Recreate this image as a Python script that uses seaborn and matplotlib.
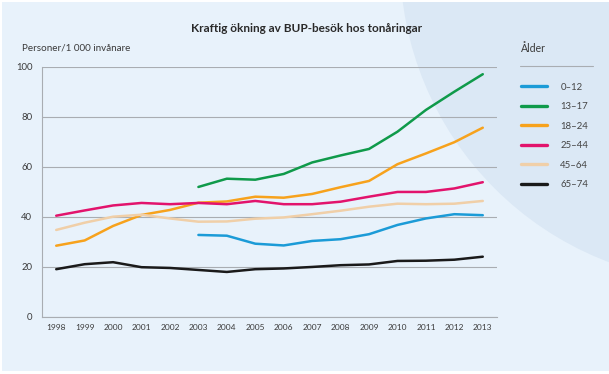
import numpy as np
import pandas as pd
import matplotlib
matplotlib.use("Agg")
import matplotlib.pyplot as plt
from matplotlib.patches import Rectangle, Ellipse
from matplotlib.lines import Line2D
import seaborn as sns

years = list(range(1998, 2014))
age_groups = ["0–12", "13–17", "18–24", "25–44", "45–64", "65–74"]
v_0_12 = [None]*5 + [32.7, 32.4, 29.2, 28.5, 30.3, 31.0, 33.0, 36.7, 39.3, 41.0, 40.6]
v_13_17 = [None]*5 + [51.9, 55.2, 54.8, 57.1, 61.7, 64.5, 67.1, 74.0, 82.7, 90.0, 97.0]
v_18_24 = [28.4, 30.5, 36.3, 40.7, 42.7, 45.6, 46.1, 48.0, 47.6, 49.1, 51.8, 54.3, 61.0, 65.3, 69.8, 75.6]
v_25_44 = [40.4, 42.5, 44.5, 45.5, 45.0, 45.5, 45.0, 46.3, 45.0, 45.0, 46.0, 48.0, 49.9, 49.9, 51.3, 53.8]
v_45_64 = [34.7, 37.6, 40.0, 40.8, 39.3, 38.0, 38.1, 39.2, 39.7, 41.0, 42.4, 44.0, 45.2, 45.0, 45.2, 46.3]
v_65_74 = [19.0, 21.0, 21.8, 19.8, 19.5, 18.7, 17.9, 19.0, 19.3, 19.9, 20.6, 20.9, 22.3, 22.4, 22.8, 24.0]
colors = ["#1b9bd7", "#0f9a4a", "#f7a21c", "#e2136c", "#f0cfa8", "#1a1a1a"]

title = "Kraftig ökning av BUP-besök hos tonåringar"
ylabel = "Personer/1 000 invånare"
legend_title = "Ålder"

series = [v_0_12, v_13_17, v_18_24, v_25_44, v_45_64, v_65_74]
rows = []
for g, vals in zip(age_groups, series):
    for y, v in zip(years, vals):
        if v is not None:
            rows.append({"År": y, "Värde": v, "Ålder": g})
df = pd.DataFrame(rows)

sns.set_style("white")
plt.rcParams["font.family"] = ["Lato", "DejaVu Sans"]

W, H = 609, 374
fig = plt.figure(figsize=(W/100, H/100), dpi=100)
fig.patch.set_facecolor("white")

card = Rectangle((2/W, 3/H), 607/W, 369/H, transform=fig.transFigure,
                 facecolor="#e8f2fb", edgecolor="none", zorder=-2)
fig.patches.append(card)
circ = Ellipse((723/W, 1 + 40/H), 2*323/W, 2*323/H, transform=fig.transFigure,
               facecolor="#dbe8f5", edgecolor="none", zorder=-1)
circ.set_clip_path(card)
fig.patches.append(circ)

ax = fig.add_axes([42/W, 1 - 316.7/H, 455/W, 250/H])
ax.set_zorder(2)
ax.patch.set_alpha(0)

sns.lineplot(data=df, x="År", y="Värde", hue="Ålder", hue_order=age_groups,
             palette=colors, linewidth=1.8, ax=ax, legend=True, zorder=3)

ax.set_xlim(1997.5, 2013.5)
ax.set_ylim(0, 100)
ax.set_yticks([0, 20, 40, 60, 80, 100])
ax.set_xticks(years)
ax.set_xticklabels([str(y) for y in years])
ax.set_xticks(np.arange(1997.5, 2014, 1), minor=True)
ax.grid(axis="y", color="#a9adb2", linewidth=0.8)
ax.set_axisbelow(True)
ax.tick_params(axis="x", which="major", length=0, pad=5, labelsize=6.0, labelcolor="#3a3a3a")
ax.tick_params(axis="x", which="minor", length=4, width=0.7, color="#a9adb2", direction="out")
ax.tick_params(axis="y", length=0, pad=7, labelsize=6.8, labelcolor="#3a3a3a")
for s in ["top", "right"]:
    ax.spines[s].set_visible(False)
for s in ["left", "bottom"]:
    ax.spines[s].set_color("#a9adb2")
    ax.spines[s].set_linewidth(0.8)
ax.set_xlabel("")
ax.set_ylabel("")

handles, labels = ax.get_legend_handles_labels()
ax.legend(handles, labels, loc="upper left", bbox_to_anchor=(521/W, 1 - 82.5/H),
          bbox_transform=fig.transFigure, frameon=False, fontsize=6.9,
          handlelength=2.75, handletextpad=1.35, labelspacing=1.1,
          borderpad=0, borderaxespad=0, labelcolor="#444444")
for h in ax.get_legend().legend_handles:
    h.set_linewidth(2.4)

fig.text(307/W, 1 - 28/H, title, ha="center", va="center", fontsize=8.5,
         fontweight="bold", color="#2a2a2a")
fig.text(22/W, 1 - 48/H, ylabel, ha="left", va="center", fontsize=7.1, color="#3a3a3a")
fig.text(521/W, 1 - 49/H, legend_title, ha="left", va="center", fontsize=7.6, color="#3a3a3a")
fig.lines.append(Line2D([520/W, 593/W], [1 - 66/H, 1 - 66/H], transform=fig.transFigure,
                        color="#a9adb2", linewidth=0.8))

fig.savefig("out.png", dpi=100)
